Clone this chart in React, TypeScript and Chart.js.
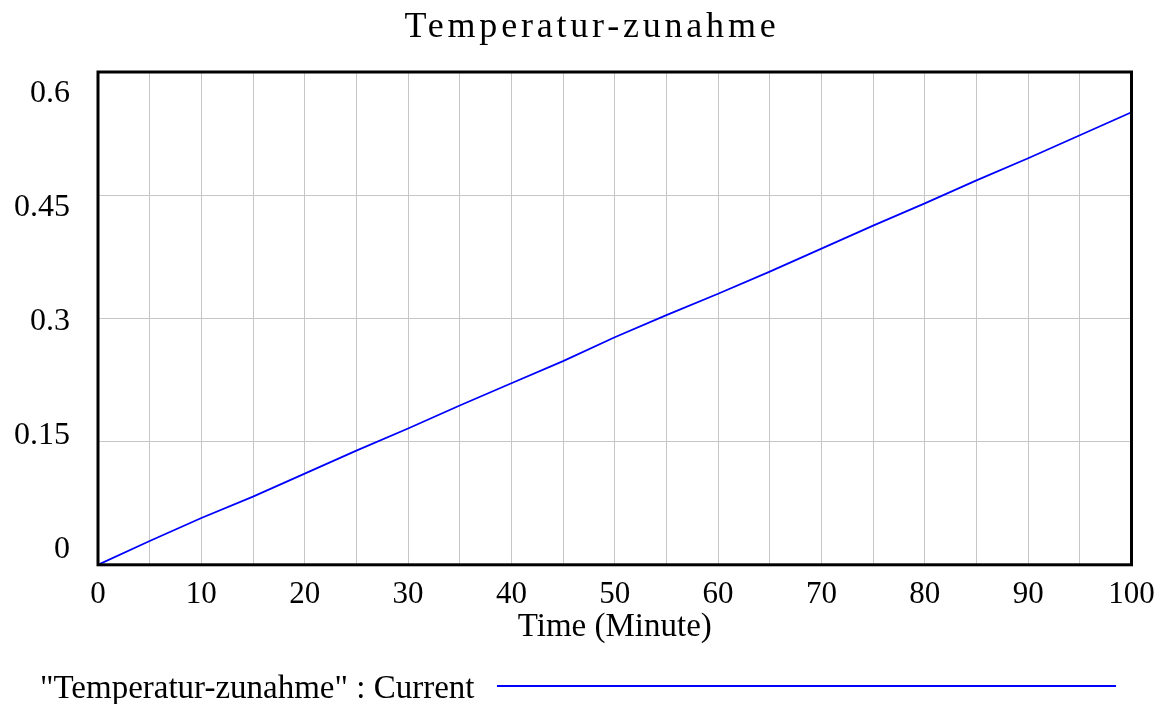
import React, { useEffect, useRef } from "react";
import { Chart, registerables } from "chart.js";

Chart.register(...registerables);

const chartTitle = "Temperatur-zunahme";
const xAxisTitle = "Time (Minute)";
const legendLabel = '"Temperatur-zunahme" : Current';

const times = [0, 5, 10, 15, 20, 25, 30, 35, 40, 45, 50, 55, 60, 65, 70, 75, 80, 85, 90, 95, 100];
const values = [0, 0.029, 0.057, 0.083, 0.111, 0.139, 0.166, 0.194, 0.221, 0.248, 0.277, 0.304, 0.33, 0.357, 0.385, 0.413, 0.44, 0.468, 0.495, 0.523, 0.551];

const yTickValues = [0, 0.15, 0.3, 0.45, 0.6];
const yTickLabels = ["0", "0.15", "0.3", "0.45", "0.6"];

const FONT = "'Liberation Serif', 'Times New Roman', serif";

const decorPlugin = {
  id: "decor",
  afterDatasetsDraw(chart: any) {
    const { ctx, chartArea } = chart;
    ctx.save();
    ctx.strokeStyle = "#000";
    ctx.lineWidth = 3;
    ctx.strokeRect(chartArea.left, chartArea.top, chartArea.right - chartArea.left, chartArea.bottom - chartArea.top);
    ctx.restore();
  },
  afterDraw(chart: any) {
    const { ctx, chartArea } = chart;
    const ys = chart.scales.y;
    ctx.save();
    // title
    ctx.fillStyle = "#000";
    ctx.font = `36px ${FONT}`;
    (ctx as any).letterSpacing = "3.8px";
    ctx.textAlign = "center";
    ctx.textBaseline = "alphabetic";
    ctx.fillText(chartTitle, 592, 37);
    (ctx as any).letterSpacing = "0px";

    // y labels (Vensim-style spread between frame edges)
    ctx.font = `32px ${FONT}`;
    ctx.textAlign = "right";
    ctx.textBaseline = "middle";
    const top = chartArea.top + 21.5;
    const bottom = chartArea.bottom - 15;
    yTickValues.forEach((v, i) => {
      const frac = (v - ys.min) / (ys.max - ys.min);
      const y = bottom - frac * (bottom - top);
      ctx.fillText(yTickLabels[i], chartArea.left - 28, y);
    });

    // legend
    ctx.textAlign = "left";
    ctx.font = `33px ${FONT}`;
    ctx.fillText(legendLabel, 40, 689);
    const ds = chart.data.datasets[0];
    ctx.strokeStyle = ds.borderColor;
    ctx.lineWidth = 2;
    ctx.beginPath();
    ctx.moveTo(497, 686);
    ctx.lineTo(1116, 686);
    ctx.stroke();
    ctx.restore();
  },
};

export default function App() {
  const canvasRef = useRef<HTMLCanvasElement>(null);

  useEffect(() => {
    if (!canvasRef.current) return;
    const chart = new Chart(canvasRef.current, {
      type: "line",
      data: {
        datasets: [
          {
            label: legendLabel,
            data: times.map((t, i) => ({ x: t, y: values[i] })),
            borderColor: "#0000ff",
            borderWidth: 1.8,
            pointRadius: 0,
            tension: 0,
            fill: false,
          },
        ],
      },
      options: {
        responsive: false,
        animation: false,
        layout: { padding: { left: 98, right: 29.5, top: 72, bottom: 57 } },
        plugins: {
          legend: { display: false },
          title: { display: false },
          tooltip: { enabled: false },
        },
        scales: {
          x: {
            type: "linear",
            min: 0,
            max: 100,
            border: { display: false },
            grid: { color: "#c6c6c6", lineWidth: 1, drawTicks: false },
            afterFit: (scale: any) => {
              scale.paddingLeft = 0;
              scale.paddingRight = 0;
            },
            ticks: {
              stepSize: 5,
              autoSkip: false,
              maxRotation: 0,
              padding: 11,
              color: "#000",
              font: { family: FONT, size: 31, lineHeight: 1.2 },
              callback: (v: any) => (Number(v) % 10 === 0 ? String(v) : ""),
            },
            title: {
              display: true,
              text: xAxisTitle,
              color: "#000",
              font: { family: FONT, size: 33, lineHeight: 1.0 },
              padding: { top: -13, bottom: 3 },
            },
          },
          y: {
            type: "linear",
            min: 0,
            max: 0.6,
            border: { display: false },
            grid: { color: "#c6c6c6", lineWidth: 1, drawTicks: false },
            ticks: { stepSize: 0.15, display: false },
          },
        },
      },
      plugins: [decorPlugin],
    });
    return () => chart.destroy();
  }, []);

  return (
    <div style={{ position: "fixed", left: 0, top: 0, width: 1161, height: 704, background: "#fff" }}>
      <canvas ref={canvasRef} width={1161} height={704} />
    </div>
  );
}
